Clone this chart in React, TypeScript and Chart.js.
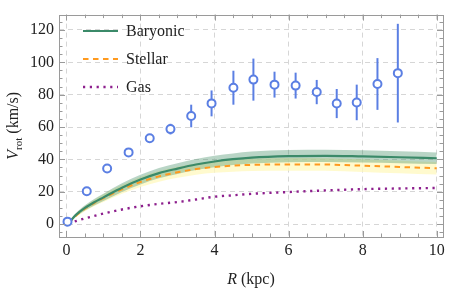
import React, { useEffect, useRef } from "react";
import { Chart, registerables } from "chart.js";

Chart.register(...registerables);

// Model curves
const R = [0.05, 0.25, 0.5, 0.75, 1, 1.5, 2, 2.5, 3, 3.5, 4, 4.5, 5, 6, 7, 8, 9, 10];
const baryonic = [0.3, 5.5, 10, 13.5, 16.5, 22.5, 27.5, 31.5, 34.3, 36.8, 38.7, 40.1, 41.1, 42.0, 42.2, 41.8, 41.3, 40.7];
const baryonicUpper = [0.5, 6.5, 11.6, 15.5, 18.8, 25.2, 30.5, 34.7, 37.6, 40.2, 42.2, 43.7, 44.8, 45.8, 46.0, 45.6, 45.0, 44.3];
const baryonicLower = [0.1, 4.5, 8.4, 11.5, 14.2, 19.8, 24.5, 28.3, 31.0, 33.4, 35.2, 36.5, 37.4, 38.2, 38.4, 38.0, 37.6, 37.1];
const stellar = [0.3, 5, 9.5, 13, 16, 21.5, 26, 29.5, 32, 34, 35.3, 36.1, 36.6, 36.9, 36.8, 36.1, 35.3, 34.5];
const stellarUpper = [0.5, 6, 11.1, 15, 18.4, 24.3, 29.1, 32.8, 35.4, 37.5, 38.9, 39.8, 40.4, 40.8, 40.7, 40.0, 39.2, 38.4];
const stellarLower = [0.1, 4, 7.9, 11, 13.6, 18.7, 22.9, 26.2, 28.6, 30.5, 31.7, 32.4, 32.8, 33.0, 32.9, 32.2, 31.4, 30.6];
const gas = [0.3, 1.8, 3.5, 5, 6.5, 9, 11, 12.5, 13.6, 15.2, 16.9, 17.8, 18.7, 19.8, 20.8, 21.6, 22.0, 22.3];

// Observed rotation curve
const obsR = [0.03, 0.55, 1.1, 1.68, 2.25, 2.81, 3.37, 3.92, 4.51, 5.05, 5.62, 6.19, 6.76, 7.3, 7.84, 8.4, 8.95];
const obsV = [1.5, 20.3, 34.4, 44.3, 53, 58.7, 66.8, 74.6, 84.3, 89.3, 86.2, 85.6, 81.6, 74.5, 75.2, 86.6, 93.3];
const obsErr = [1, 1, 1.5, 1.5, 2, 3.3, 7, 8, 10.5, 13, 8, 8, 7.5, 9, 11, 16, 30.5];

// Ticks
const xTicks = [0, 2, 4, 6, 8, 10];
const yTicks = [0, 20, 40, 60, 80, 100, 120];
const legendLabels = ["Baryonic", "Stellar", "Gas"];

const FONT = "'Liberation Serif', 'DejaVu Serif', serif";
const GREEN = "#3b8a69";
const ORANGE = "#ff9a1f";
const PURPLE = "#8d1f8d";
const BLUE = "#5b7fe3";

const pts = (ys: number[]) => R.map((r, i) => ({ x: r, y: ys[i] }));

const errorBarPlugin = {
  id: "errorBars",
  beforeDatasetsDraw(chart: any) {
    const { ctx, scales } = chart;
    const x = scales.x, y = scales.y;
    ctx.save();
    ctx.strokeStyle = BLUE;
    ctx.lineWidth = 2;
    obsR.forEach((r, i) => {
      const px = x.getPixelForValue(r);
      ctx.beginPath();
      ctx.moveTo(px, y.getPixelForValue(obsV[i] - obsErr[i]));
      ctx.lineTo(px, y.getPixelForValue(obsV[i] + obsErr[i]));
      ctx.stroke();
    });
    ctx.restore();
  },
};

const framePlugin = {
  id: "frame",
  afterDatasetsDraw(chart: any) {
    const { ctx, chartArea, scales } = chart;
    const { left, right, top, bottom } = chartArea;
    const x = scales.x, y = scales.y;
    ctx.save();
    ctx.strokeStyle = "#9a9a9a";
    ctx.lineWidth = 1;
    ctx.strokeRect(Math.round(left) + 0.5, Math.round(top) + 0.5, Math.round(right - left), Math.round(bottom - top));
    ctx.beginPath();
    for (let v = 0; v <= 10.001; v += 0.5) {
      const px = Math.round(x.getPixelForValue(v)) + 0.5;
      const major = Math.abs(v / 2 - Math.round(v / 2)) < 1e-6;
      const len = major ? 6 : 3.5;
      ctx.moveTo(px, bottom);
      ctx.lineTo(px, bottom - len);
      ctx.moveTo(px, top);
      ctx.lineTo(px, top + len);
    }
    for (let v = -5; v <= 125; v += 5) {
      const py = Math.round(y.getPixelForValue(v)) + 0.5;
      const major = v % 20 === 0;
      const len = major ? 6 : 3.5;
      ctx.moveTo(left, py);
      ctx.lineTo(left + len, py);
      ctx.moveTo(right, py);
      ctx.lineTo(right - len, py);
    }
    ctx.stroke();
    ctx.restore();
  },
  afterDraw(chart: any) {
    const { ctx, chartArea } = chart;
    const { left, right, top, bottom } = chartArea;
    ctx.save();
    ctx.fillStyle = "#222";
    // Legend
    const styles = [
      { color: GREEN, dash: [], width: 2.2 },
      { color: ORANGE, dash: [5.5, 4.5], width: 2 },
      { color: PURPLE, dash: [2.2, 4.6], width: 2.4 },
    ];
    legendLabels.forEach((lab, i) => {
      const yy = 31 + i * 28;
      const s = styles[i];
      ctx.save();
      ctx.strokeStyle = s.color;
      ctx.lineWidth = s.width;
      ctx.setLineDash(s.dash);
      ctx.beginPath();
      ctx.moveTo(83, yy);
      ctx.lineTo(118, yy);
      ctx.stroke();
      ctx.restore();
      ctx.font = `16px ${FONT}`;
      ctx.textBaseline = "middle";
      ctx.textAlign = "left";
      ctx.fillText(lab, 126, yy + 1);
    });
    // X title
    ctx.textBaseline = "alphabetic";
    ctx.textAlign = "left";
    const cx = (left + right) / 2;
    ctx.font = `italic 16px ${FONT}`;
    const wR = ctx.measureText("R").width;
    ctx.font = `16px ${FONT}`;
    const wRest = ctx.measureText(" (kpc)").width;
    const x0 = cx - (wR + wRest) / 2;
    ctx.font = `italic 16px ${FONT}`;
    ctx.fillText("R", x0, 284);
    ctx.font = `16px ${FONT}`;
    ctx.fillText(" (kpc)", x0 + wR, 284);
    // Y title
    const cy = (top + bottom) / 2;
    ctx.translate(18, cy);
    ctx.rotate(-Math.PI / 2);
    ctx.font = `italic 16px ${FONT}`;
    const wV = ctx.measureText("V").width;
    ctx.font = `11px ${FONT}`;
    const wSub = ctx.measureText("rot").width;
    ctx.font = `16px ${FONT}`;
    const wUnit = ctx.measureText(" (km/s)").width;
    const sx = -(wV + wSub + wUnit) / 2;
    ctx.font = `italic 16px ${FONT}`;
    ctx.fillText("V", sx, 0);
    ctx.font = `11px ${FONT}`;
    ctx.fillText("rot", sx + wV, 4);
    ctx.font = `16px ${FONT}`;
    ctx.fillText(" (km/s)", sx + wV + wSub, 0);
    ctx.restore();
  },
};

export default function App() {
  const ref = useRef<HTMLCanvasElement | null>(null);
  useEffect(() => {
    if (!ref.current) return;
    const lineBase = { pointRadius: 0, cubicInterpolationMode: "monotone" as const, showLine: true };
    const chart = new Chart(ref.current, {
      type: "scatter",
      data: {
        datasets: [
          {
            data: obsR.map((r, i) => ({ x: r, y: obsV[i] })),
            pointRadius: 4,
            pointBorderWidth: 2,
            pointBackgroundColor: "#ffffff",
            pointBorderColor: BLUE,
            showLine: false,
          },
          { ...lineBase, data: pts(baryonic), borderColor: GREEN, borderWidth: 2.2 },
          { ...lineBase, data: pts(stellar), borderColor: ORANGE, borderWidth: 2, borderDash: [5.5, 4.5] },
          { ...lineBase, data: pts(gas), borderColor: PURPLE, borderWidth: 2.4, borderDash: [2.2, 4.6] },
          { ...lineBase, data: pts(baryonicUpper), borderWidth: 0, borderColor: "rgba(0,0,0,0)" },
          { ...lineBase, data: pts(baryonicLower), borderWidth: 0, borderColor: "rgba(0,0,0,0)", fill: "-1", backgroundColor: "rgba(70,145,105,0.38)" },
          { ...lineBase, data: pts(stellarUpper), borderWidth: 0, borderColor: "rgba(0,0,0,0)" },
          { ...lineBase, data: pts(stellarLower), borderWidth: 0, borderColor: "rgba(0,0,0,0)", fill: "-1", backgroundColor: "rgba(255,248,190,0.75)" },
        ] as any,
      },
      options: {
        animation: false,
        responsive: false,
        devicePixelRatio: 1,
        layout: { padding: { top: 1, right: 6, left: 0, bottom: 0 } },
        plugins: { legend: { display: false }, tooltip: { enabled: false } },
        scales: {
          x: {
            type: "linear",
            min: -0.2,
            max: 10.17,
            afterBuildTicks: (s: any) => { s.ticks = xTicks.map((v) => ({ value: v })); },
            afterFit: (s: any) => { s.height = 53; },
            grid: { color: "#d6d6d6", drawTicks: false, lineWidth: 1 },
            border: { display: false, dash: [5, 4] },
            ticks: { font: { family: FONT, size: 16 }, color: "#222", padding: 4, maxRotation: 0 },
          },
          y: {
            type: "linear",
            min: -8,
            max: 129.5,
            afterBuildTicks: (s: any) => { s.ticks = yTicks.map((v) => ({ value: v })); },
            afterFit: (s: any) => { s.width = 59; },
            grid: { color: "#d6d6d6", drawTicks: false, lineWidth: 1 },
            border: { display: false, dash: [5, 4] },
            ticks: { font: { family: FONT, size: 16 }, color: "#222", padding: 5 },
          },
        },
      },
      plugins: [errorBarPlugin, framePlugin],
    });
    return () => chart.destroy();
  }, []);
  return (
    <div style={{ position: "absolute", left: 0, top: 0, width: 449, height: 290, background: "#fff" }}>
      <canvas ref={ref} width={449} height={290} style={{ display: "block" }} />
    </div>
  );
}
